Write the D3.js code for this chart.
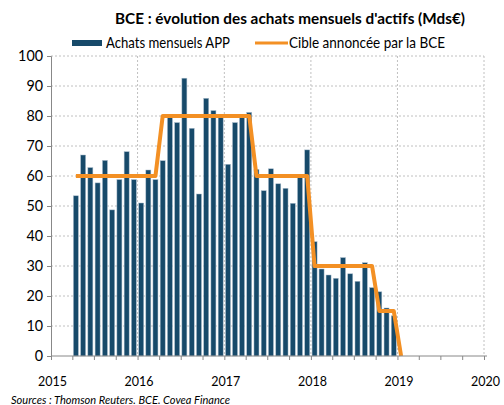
<!DOCTYPE html>
<html><head><meta charset="utf-8">
<script src="https://cdn.jsdelivr.net/npm/d3@7"></script>
<style>
html,body{margin:0;padding:0;background:#fff;}
svg{display:block;}
text{font-family:Lato,"Open Sans",sans-serif;fill:#000;}
</style></head>
<body>
<svg id="chart" width="504" height="405"></svg>
<script>
// Monthly APP purchases (Mds€), months Apr 2015 .. Dec 2018 as positioned on the chart
const barStart = "2015-04";
const achats = [53.4,67.0,62.8,57.7,65.2,48.7,58.8,68.1,58.8,51.0,62.0,58.8,
  65.1,79.6,77.8,92.6,75.9,54.0,85.9,81.8,79.6,63.9,77.8,79.6,
  81.2,62.2,55.1,62.4,57.4,55.9,50.9,59.6,68.7,38.1,29.0,27.0,
  25.9,32.8,27.4,24.9,31.1,22.8,21.4,16.0,13.4];
// ECB announced target, months Apr 2015 .. Jan 2019
const cible = [60,60,60,60,60,60,60,60,60,60,60,60,
  80,80,80,80,80,80,80,80,80,80,80,80,80,
  60,60,60,60,60,60,60,60,
  30,30,30,30,30,30,30,30,30,
  15,15,15,0];
const yTicks = [0,10,20,30,40,50,60,70,80,90,100];
const xYears = [2015,2016,2017,2018,2019,2020];
const title = "BCE : évolution des achats mensuels d'actifs (Mds€)";
const legendLabels = ["Achats mensuels APP","Cible annoncée par la BCE"];
const source = "Sources : Thomson Reuters. BCE. Covea Finance";

const svg = d3.select("#chart");
const parse = d3.timeParse("%Y-%m");
const t0 = parse(barStart);
const monthOf = i => d3.timeMonth.offset(t0, i);
const x = d3.scaleTime().domain([new Date(2015,0,1), new Date(2020,0,1)]).range([51,484]);
const y = d3.scaleLinear().domain([0,100]).range([356,56]);
const mid = d => new Date((+d + +d3.timeMonth.offset(d,1))/2);
const fit = (sel, w) => sel.attr("textLength", w).attr("lengthAdjust","spacingAndGlyphs");

// horizontal grid
svg.append("g").selectAll("line").data(yTicks.filter(v=>v>0)).join("line")
  .attr("x1",51).attr("x2",484).attr("y1",d=>y(d)).attr("y2",d=>y(d))
  .attr("stroke","#c0c0c0").attr("stroke-width",1).attr("stroke-dasharray","2,2");
// vertical grid
svg.append("g").selectAll("line").data(xYears.slice(1)).join("line")
  .attr("x1",d=>x(new Date(d,0,1))).attr("x2",d=>x(new Date(d,0,1)))
  .attr("y1",y(100)).attr("y2",y(0))
  .attr("stroke","#c0c0c0").attr("stroke-width",1).attr("stroke-dasharray","2,2");

// bars
const bw = 5;
svg.append("g").selectAll("rect").data(achats).join("rect")
  .attr("x",(d,i)=>x(mid(monthOf(i)))-bw/2)
  .attr("width",bw)
  .attr("y",d=>y(d)).attr("height",d=>y(0)-y(d))
  .attr("fill","#174a6a").attr("stroke","#a9bccb").attr("stroke-width",0.5);

// target line
const line = d3.line().x((d,i)=>x(mid(monthOf(i)))).y(d=>y(d));
svg.append("path").datum(cible).attr("d",line)
  .attr("fill","none").attr("stroke","#f39024").attr("stroke-width",4)
  .attr("stroke-linejoin","round");

// y axis
const yAxis = d3.axisLeft(y).tickValues(yTicks).tickSize(4).tickPadding(4);
const gy = svg.append("g").attr("transform","translate(51,0)").call(yAxis);
gy.select(".domain").attr("stroke","#888");
gy.selectAll(".tick line").attr("stroke","#888");
gy.selectAll("text").attr("font-size",15).style("font-family","Lato,sans-serif").style("fill","#000")
  .each(function(d){ d3.select(this).attr("textLength", String(d).length*8.3).attr("lengthAdjust","spacingAndGlyphs"); });

// x axis
const qTicks = d3.timeMonth.every(3).range(new Date(2015,0,1), new Date(2020,0,2));
const xAxis = d3.axisBottom(x).tickValues(qTicks).tickSize(4).tickFormat("");
const gx = svg.append("g").attr("transform","translate(0,356)").call(xAxis);
gx.select(".domain").attr("stroke","#888").attr("d","M51,0H487");
gx.selectAll(".tick line").attr("stroke","#888");
svg.append("g").selectAll("text").data(xYears).join("text")
  .attr("x",d=>x(new Date(d,0,1))+1.5).attr("y",386)
  .attr("text-anchor","middle").attr("font-size",14).text(d=>d)
  .call(fit, 29);

// title
svg.append("text").attr("x",290).attr("y",24).attr("text-anchor","middle")
  .attr("font-size",16).attr("font-weight","bold").text(title).call(fit, 350);

// legend
svg.append("rect").attr("x",72).attr("y",40).attr("width",30).attr("height",6).attr("fill","#174a6a");
svg.append("text").attr("x",106).attr("y",48).attr("font-size",15).text(legendLabels[0]).call(fit,124);
svg.append("line").attr("x1",255).attr("x2",288).attr("y1",43).attr("y2",43)
  .attr("stroke","#f39024").attr("stroke-width",3);
svg.append("text").attr("x",289).attr("y",48).attr("font-size",15).text(legendLabels[1]).call(fit,156);

// source
svg.append("text").attr("x",11).attr("y",404).attr("font-size",11)
  .attr("font-style","italic").text(source).call(fit,219);
</script>
</body></html>
